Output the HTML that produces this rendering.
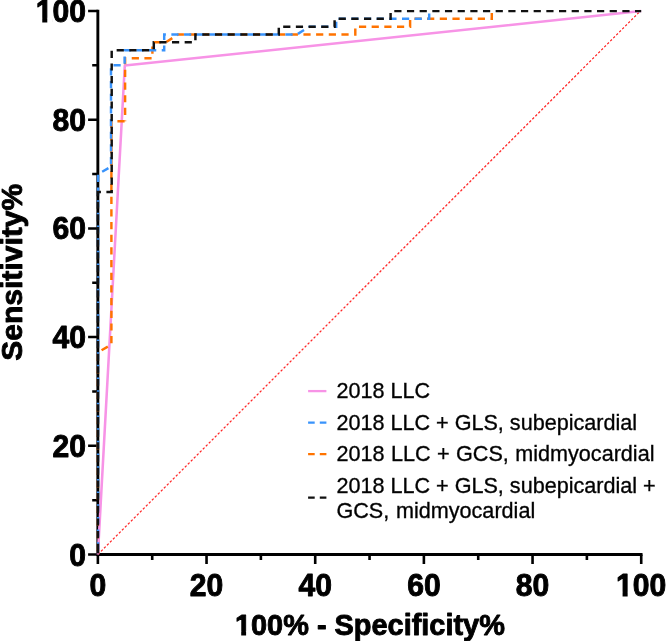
<!DOCTYPE html>
<html>
<head>
<meta charset="utf-8">
<title>ROC curves</title>
<style>
html,body{margin:0;padding:0;background:#fff;}
body{width:666px;height:641px;overflow:hidden;}
svg{display:block;}
text{font-family:"Liberation Sans",sans-serif;fill:#000;}
svg{will-change:transform;}
.b{font-weight:bold;font-size:30px;stroke:#000;stroke-width:0.9px;stroke-linejoin:round;}
.lg{font-size:21.6px;fill:#111;stroke:#111;stroke-width:0.35px;}
</style>
</head>
<body>
<svg width="666" height="641" viewBox="0 0 666 641">
<rect x="0" y="0" width="666" height="641" fill="#ffffff"/>

<!-- axes -->
<g stroke="#000" fill="none" stroke-linecap="butt">
  <path stroke-width="2.9" d="M97.85,9.75 V555.95"/>
  <path stroke-width="2.9" d="M96.4,554.50 H642.52"/>
  <path stroke-width="2.5" d="M88.1,11.00 H97.85 M88.1,119.70 H97.85 M88.1,228.40 H97.85 M88.1,337.10 H97.85 M88.1,445.80 H97.85 M88.1,554.50 H97.85"/>
  <path stroke-width="2.5" d="M92.2,65.35 H97.85 M92.2,174.05 H97.85 M92.2,282.75 H97.85 M92.2,391.45 H97.85 M92.2,500.15 H97.85"/>
  <path stroke-width="2.6" d="M97.87,554.50 V564.1 M206.54,554.50 V564.1 M315.21,554.50 V564.1 M423.88,554.50 V564.1 M532.55,554.50 V564.1 M641.22,554.50 V564.1"/>
  <path stroke-width="2.6" d="M152.21,554.50 V559.9 M260.88,554.50 V559.9 M369.55,554.50 V559.9 M478.22,554.50 V559.9 M586.88,554.50 V559.9"/>
</g>

<!-- identity line -->
<path d="M98,554.3 L640.6,10.8" stroke="#ff2626" stroke-width="1.2" stroke-dasharray="2.4 1.84" fill="none"/>

<!-- curves -->
<g fill="none" stroke-width="2.45" stroke-linejoin="miter">
  <path d="M97.9,554.5 L124.8,65.6 L641.2,11.1" stroke="#f793e6" stroke-width="2.55" stroke-linejoin="round"/>
  <path d="M97.9,553.4 V550.6" stroke="#111"/>
  <path d="M97.9,554.5 V352.3 L111.4,344.6 V121.2 H125.1" stroke="#ff7300" stroke-dasharray="7.2 5.47" stroke-dashoffset="8.97"/>
  <path d="M125.1,121.2 V58.3 H152.4 V42.2 H166 L178,34.5 H355.3 V26.7 H410.1 V18.8 H491.8 V11.1" stroke="#ff7300" stroke-dasharray="7.2 5.47" stroke-dashoffset="6.49"/>
  <path d="M98.1,554.5 V174 L111,166.7 V65.3 H124.65 V50.2 H164.2 V34.5 H296.8 L309.5,26.7 H336.2 V18.8 H429.2 V11.1" stroke="#3993fb" stroke-dasharray="7.2 5.47" stroke-dashoffset="7.6"/>
  <path d="M97.9,554.5 V192 H111.7 V50.2 H153.8 V42.2 H195.4 V34.5 H278.8 V26.7 H334.6 V18.8 H390.6 V11.1 H641.2" stroke="#111" stroke-dasharray="7.2 5.47" stroke-dashoffset="9.1"/>
</g>

<!-- y tick labels -->
<g class="b" text-anchor="end">
  <text transform="translate(85.95,22.0) scale(1.003,1.035)">100</text>
  <text transform="translate(85.95,130.7) scale(1.003,1.035)">80</text>
  <text transform="translate(85.95,239.4) scale(1.003,1.035)">60</text>
  <text transform="translate(85.95,348.1) scale(1.003,1.035)">40</text>
  <text transform="translate(85.95,456.8) scale(1.003,1.035)">20</text>
  <text transform="translate(85.95,565.5) scale(1.003,1.035)">0</text>
</g>
<!-- x tick labels -->
<g class="b" text-anchor="middle">
  <text transform="translate(97.9,595.5) scale(1.003,1.035)">0</text>
  <text transform="translate(206.5,595.5) scale(1.003,1.035)">20</text>
  <text transform="translate(315.2,595.5) scale(1.003,1.035)">40</text>
  <text transform="translate(423.9,595.5) scale(1.003,1.035)">60</text>
  <text transform="translate(532.6,595.5) scale(1.003,1.035)">80</text>
  <text transform="translate(641.2,595.5) scale(1.003,1.035)">100</text>
</g>
<!-- axis titles -->
<text class="b" transform="translate(369.9,634.5) scale(0.964,0.995)" text-anchor="middle">100% - Specificity%</text>
<text class="b" transform="translate(21.5,272.3) rotate(-90) scale(1.0,0.972)" text-anchor="middle">Sensitivity%</text>

<!-- trim the foot of the digit 1 so it reads like a plain stem -->
<g fill="#ffffff">
  <rect x="235.4" y="631.0" width="5.8" height="5.4"/>
  <rect x="246.1" y="631.0" width="5.2" height="5.4"/>
  <rect x="616.5" y="591.9" width="6.08" height="5.4"/>
  <rect x="627.64" y="591.9" width="5.36" height="5.4"/>
  <rect x="36.2" y="17.9" width="6.06" height="5.4"/>
  <rect x="47.29" y="17.9" width="5.3" height="5.4"/>
</g>

<!-- legend -->
<g fill="none" stroke-width="2.3">
  <path d="M308.1,391.1 H326.4" stroke="#f793e6"/>
  <path d="M308.1,422.6 H326.4" stroke="#3993fb" stroke-dasharray="6.6 5.1"/>
  <path d="M308.1,454.1 H326.4" stroke="#ff7300" stroke-dasharray="6.6 5.1"/>
  <path d="M308.1,497.7 H326.4" stroke="#111" stroke-dasharray="6.6 5.1"/>
</g>
<g class="lg">
  <text x="336.4" y="398.3">2018 LLC</text>
  <text x="336.4" y="429.8">2018 LLC + GLS, subepicardial</text>
  <text x="336.4" y="461.3" word-spacing="0.45">2018 LLC + GCS, midmyocardial</text>
  <text x="336.4" y="492.7">2018 LLC + GLS, subepicardial +</text>
  <text x="336.4" y="517.5" word-spacing="0.8">GCS, midmyocardial</text>
</g>
</svg>
</body>
</html>
